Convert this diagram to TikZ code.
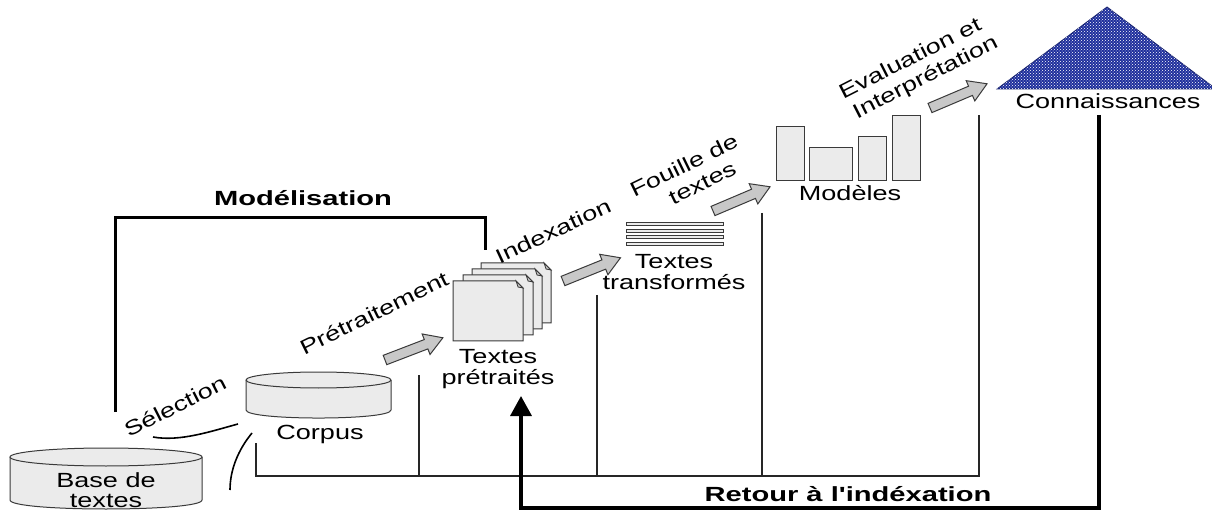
\documentclass[tikz,border=0pt]{standalone}
\usepackage{fontspec}
\setmainfont{Liberation Sans}[FakeStretch=1.32]
\newfontfamily\boldfont{Liberation Sans}[FakeStretch=1.42]
\usetikzlibrary{arrows.meta,patterns}
\definecolor{lightfill}{HTML}{EBEBEB}
\definecolor{arrowfill}{HTML}{C8C8C8}
\definecolor{edgegray}{HTML}{3A3A3A}
\definecolor{triblue}{HTML}{1E2E9C}
\newcommand\grayarrow[4]{%
  \draw[garrow, shift={(#2)}, rotate=#3] (0,-5) -- (#4-18,-5) -- (#4-18,-11) -- (#4,0) -- (#4-18,11) -- (#4-18,5) -- (0,5) -- cycle;%
  \coordinate (#1) at (#2);}
\newcommand\textpage[2]{%
  \draw[shapefill] (#1,#2) -- ++(63,0) -- ++(7,7) -- ++(0,53) -- ++(-70,0) -- cycle;
  \draw[fill=arrowfill, draw=edgegray, line width=0.8pt] (#1+63,#2) -- (#1+65,#2+6) -- (#1+70,#2+7) -- cycle;}
\begin{document}
\begin{tikzpicture}[x=1pt,y=-1pt,
  lbl/.style={font=\fontsize{20.5}{20.5}\selectfont, align=center, inner sep=0pt},
  rlbl/.style={font=\fontsize{20.5}{23.5}\selectfont, align=center, inner sep=0pt},
  blbl/.style={font=\boldfont\bfseries\fontsize{20.5}{21}\selectfont, inner sep=0pt},
  shapefill/.style={fill=lightfill, draw=edgegray, line width=1pt},
  garrow/.style={fill=arrowfill, draw=edgegray, line width=1pt, line join=miter},
  conn/.style={line width=1.3pt, draw=black!85},
  heavy/.style={line width=3.5pt, draw=black}
]
\useasboundingbox (0,0) rectangle (1212,510);
\clip (0,0) rectangle (1212,510);
\fill[white] (0,0) rectangle (1212,510);

% ---------- Base de textes cylinder
\path[fill=lightfill] (10,457) -- (10,500) .. controls (10,512) and (202,512) .. (202,500) -- (202,457) -- cycle;
\draw[edgegray, line width=1pt] (10,457) -- (10,500) .. controls (10,512) and (202,512) .. (202,500) -- (202,457);
\draw[shapefill] (106,457) ellipse [x radius=96, y radius=9];
\node[lbl] (base) at (106,490) {Base de\\textes};

% ---------- Corpus cylinder
\path[fill=lightfill] (246,380) -- (246,410) .. controls (246,420.7) and (391,420.7) .. (391,410) -- (391,380) -- cycle;
\draw[edgegray, line width=1pt] (246,380) -- (246,410) .. controls (246,420.7) and (391,420.7) .. (391,410) -- (391,380);
\draw[shapefill] (318.5,380) ellipse [x radius=72.5, y radius=8];
\node[lbl] (corpus) at (320,434) {Corpus};

% ---------- Textes prétraités (stack of pages)
\textpage{481}{263}
\textpage{472}{269}
\textpage{463}{275}
\textpage{453}{281}
\node[lbl] (pretr) at (498,369) {Textes\\prétraités};

% ---------- Textes transformés (bars)
\foreach \yy in {222.5,229,235.5,242}
  \draw[fill=lightfill, draw=edgegray, line width=0.9pt] (626,\yy) rectangle (723,\yy+3.2);
\node[lbl] (transf) at (674,272) {Textes\\transformés};

% ---------- Modèles (bar chart)
\draw[shapefill] (776,127) rectangle (804,181);
\draw[shapefill] (809,148) rectangle (852,181);
\draw[shapefill] (858,137) rectangle (886,181);
\draw[shapefill] (892,116) rectangle (920,181);
\node[lbl] (modeles) at (850,193) {Modèles};

% ---------- Connaissances (triangle)
\draw[fill=triblue, draw=triblue!70!black, line width=0.8pt, postaction={pattern=crosshatch dots, pattern color=white}]
  (997,89) -- (1107,7) -- (1216,89) -- cycle;
\node[lbl] (conn) at (1108,101) {Connaissances};

% ---------- Gray block arrows
\grayarrow{a1}{385,360}{21}{62}
\grayarrow{a2}{563,281}{22}{62}
\grayarrow{a3}{713,211}{23}{62}
\grayarrow{a4}{930,108}{23}{62}

% ---------- Step labels
\node[lbl, rotate=27] (sel) at (175,406) {Sélection};
\node[lbl, rotate=26] (pre) at (374,313) {Prétraitement};
\node[lbl, rotate=25] (idx) at (553,231) {Indexation};
\node[rlbl, rotate=26] (fouille) at (689,176) {Fouille de\\\hspace*{18pt}textes};
\node[rlbl, rotate=27] (eval) at (916,70) {Evaluation et\\\hspace*{10pt}Interprétation};

% ---------- Sélection strokes
\draw[line width=1.6pt] (153,437) .. controls (180,442) and (212,431) .. (238,424);
\draw[line width=1.6pt] (252,433) .. controls (238,450) and (230,470) .. (230,490);

% ---------- Thin connecting lines
\coordinate (c0) at (256,443);
\coordinate (cb) at (979,476);
\draw[conn] (c0) -- (256,476) -- (cb) -- (979,115);
\draw[conn] (419,375) -- (419,476);
\draw[conn] (597,295) -- (597,476);
\draw[conn] (762,213) -- (762,476);

% ---------- Modélisation bracket
\draw[line width=3pt, line cap=butt] (115,412) -- (115,218) -- (485,218) -- (485,250);
\node[blbl] (model) at (303,198) {Modélisation};

% ---------- Retour à l'indexation arrow
\draw[heavy, -{Triangle[width=21pt,length=20pt]}] (1099,115) -- (1099,508) -- (521,508) -- (521,396);
\node[blbl] (retour) at (848,494) {Retour à l'indéxation};
\end{tikzpicture}
\end{document}
